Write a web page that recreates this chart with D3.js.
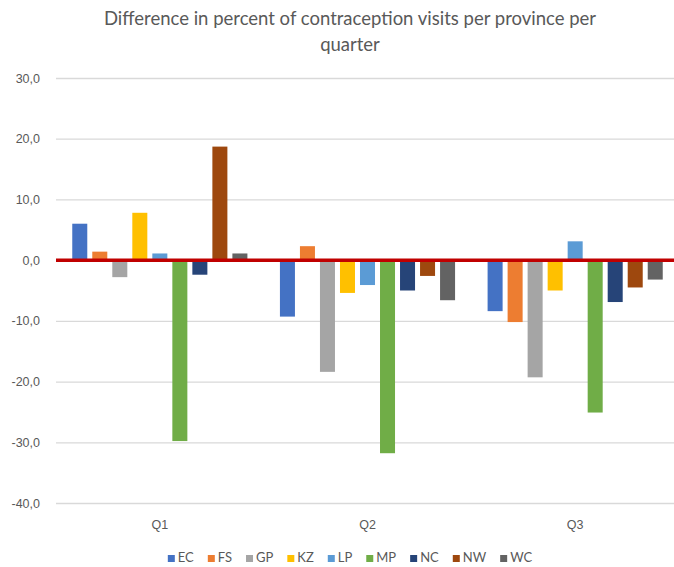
<!DOCTYPE html>
<html>
<head>
<meta charset="utf-8">
<script src="https://cdn.jsdelivr.net/npm/d3@7"></script>
<style>
  html, body { margin: 0; padding: 0; background: #fff; }
  svg { display: block; font-family: Lato, "Open Sans", sans-serif; }
</style>
</head>
<body>
<svg id="chart" width="674" height="567"></svg>
<script>
// Quarters and provinces
const quarters = ["Q1", "Q2", "Q3"];
const provinces = ["EC", "FS", "GP", "KZ", "LP", "MP", "NC", "NW", "WC"];

// Difference in percent per province, one array per quarter (order follows provinces)
const q1Values = [6.0, 1.4, -2.8, 7.8, 1.1, -29.8, -2.4, 18.7, 1.1];
const q2Values = [-9.3, 2.3, -18.4, -5.4, -4.1, -31.8, -5.0, -2.6, -6.6];
const q3Values = [-8.4, -10.2, -19.3, -5.0, 3.1, -25.1, -6.9, -4.5, -3.2];

const yTicks = [30, 20, 10, 0, -10, -20, -30, -40];
const provinceColors = ["#4472C4", "#ED7D31", "#A5A5A5", "#FFC000", "#5B9BD5",
                        "#70AD47", "#264478", "#9E480E", "#636363"];

const titleLines = ["Difference in percent of contraception visits per province per", "quarter"];

const valuesByQuarter = [q1Values, q2Values, q3Values];
const rows = [];
quarters.forEach((q, qi) => {
  provinces.forEach((p, pi) => rows.push({ quarter: q, province: p, value: valuesByQuarter[qi][pi] }));
});

const svg = d3.select("#chart");
const plot = { left: 56, right: 679, top: 78, bottom: 503 };
const textColor = "#595959";

const y = d3.scaleLinear().domain([-40, 30]).range([plot.bottom, plot.top]);
const x0 = d3.scaleBand().domain(quarters).range([plot.left, plot.right]).paddingInner(0).paddingOuter(0);
const x1 = d3.scaleBand().domain(provinces).range([0, x0.bandwidth()])
  .paddingInner(0.25).paddingOuter(0.8125);
const color = d3.scaleOrdinal().domain(provinces).range(provinceColors);

// Title
svg.append("g").selectAll("text").data(titleLines).join("text")
  .attr("x", 350).attr("y", (d, i) => 25 + i * 26)
  .attr("text-anchor", "middle")
  .attr("fill", textColor)
  .style("font-size", "18.5px")
  .text(d => d);

// Gridlines and value axis
const yAxis = d3.axisLeft(y).tickValues(yTicks)
  .tickSize(-(plot.right - plot.left))
  .tickPadding(16)
  .tickFormat(d => d3.format(".1f")(d).replace(".", ",").replace("−", "-"));

const gy = svg.append("g").attr("transform", `translate(${plot.left},0)`).call(yAxis);
gy.select(".domain").remove();
gy.selectAll(".tick line").attr("stroke", "#D9D9D9").attr("stroke-width", 1.3);
gy.selectAll(".tick text").attr("fill", textColor).style("font-size", "12.5px");

// Bars
svg.append("g").selectAll("rect").data(rows).join("rect")
  .attr("x", d => x0(d.quarter) + x1(d.province))
  .attr("width", x1.bandwidth())
  .attr("y", d => y(Math.max(0, d.value)))
  .attr("height", d => Math.abs(y(d.value) - y(0)))
  .attr("fill", d => color(d.province));

// Zero line
svg.append("line")
  .attr("x1", plot.left).attr("x2", plot.right)
  .attr("y1", y(0)).attr("y2", y(0))
  .attr("stroke", "#C00000").attr("stroke-width", 3.5);

// Category axis labels
const xAxis = d3.axisBottom(x0).tickSize(0).tickPadding(17);
const gx = svg.append("g").attr("transform", `translate(0,${plot.bottom})`).call(xAxis);
gx.select(".domain").remove();
gx.selectAll(".tick text").attr("fill", textColor).style("font-size", "12.5px");

// Legend
const legend = svg.append("g");
const items = legend.selectAll("g").data(provinces).join("g");
items.append("rect").attr("width", 7).attr("height", 7).attr("y", -7)
  .attr("fill", d => color(d));
items.append("text").attr("x", 10).attr("y", 0)
  .attr("fill", textColor).style("font-size", "13px")
  .text(d => d);
let cursor = 0;
const gap = 14;
items.each(function () {
  const w = 10 + this.querySelector("text").getComputedTextLength();
  d3.select(this).attr("transform", `translate(${cursor},0)`);
  cursor += w + gap;
});
const legendWidth = cursor - gap;
legend.attr("transform", `translate(${350 - legendWidth / 2},562)`);
</script>
</body>
</html>
